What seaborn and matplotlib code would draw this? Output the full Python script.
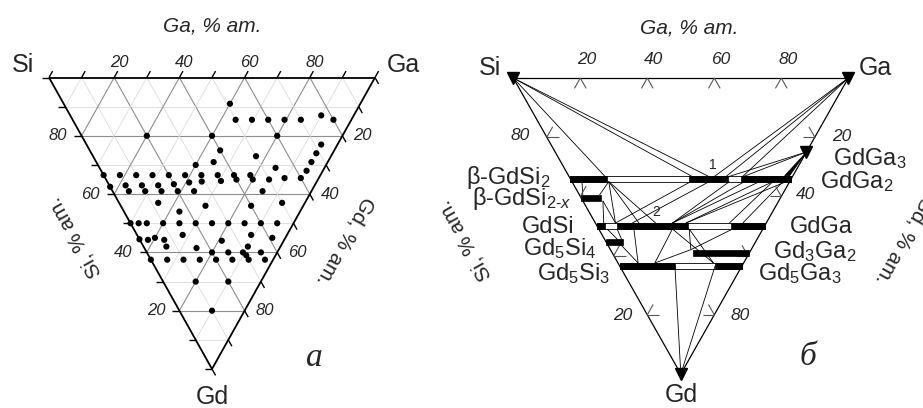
import numpy as np
import pandas as pd
import matplotlib
matplotlib.use('Agg')
import matplotlib.pyplot as plt
import seaborn as sns
from matplotlib.patches import Rectangle, Polygon

sns.set_theme(style='white')
plt.rcParams['font.family'] = ['Liberation Sans', 'DejaVu Sans']
plt.rcParams['mathtext.fontset'] = 'custom'
plt.rcParams['mathtext.rm'] = 'Liberation Sans'
plt.rcParams['mathtext.it'] = 'Liberation Sans:italic'

# ---- panel a: compositions of the alloys (at.% Ga, at.% Gd)
samp_ga = [51, 50, 55, 60, 65, 70, 77, 80, 20, 40, 60,
           40, 72, 69, 50, 66, 63, 36, 30, 54,
           0, 5, 10, 15, 20, 25, 30, 35, 40, 45, 50, 55, 60,
           0, 5, 10, 15, 20, 25, 29, 35, 40, 45,
           5, 10, 15, 20, 25, 46,
           12, 17, 26, 40, 50,
           0, 2.5, 5, 10, 15, 20, 25, 30, 35, 40, 45,
           14, 35, 41, 25, 0, 2.5, 5, 7.5, 7, 16, 32,
           20, 25, 29.5, 35, 30,
           0, 5, 10, 15, 20, 25, 30, 35,
           10, 20, 10]
samp_gd = [9, 14.5, 14.5, 14.5, 14.5, 14.5, 13, 14.5, 20, 20, 20,
           25, 23, 26, 27, 29, 32, 29, 30, 31,
           33.5, 33.5, 33.5, 33.5, 33.5, 33.5, 33.5, 33.5, 33.5, 33.5, 35, 34.5, 34.5,
           37.5, 37, 37, 37, 36.6, 36, 35.7, 35.5, 35, 35,
           39, 39, 39, 39, 39, 39,
           43, 46, 44, 44, 43,
           50, 50, 50, 50, 50, 50, 50, 50, 50, 50, 50,
           54, 54, 55, 56, 55.5, 55.7, 55, 55.7, 58, 58.5, 58,
           60, 60, 60, 60, 61,
           62.5, 62.5, 62.5, 62.5, 62.5, 62.5, 62.5, 62.5,
           70, 70, 80]

tick_vals = [20, 40, 60, 80]

# ---- panel b: homogeneity ranges (at.% Gd, Ga from, Ga to)
bar_gd = [34, 34, 34, 40.5, 50, 50, 50, 55.5, 59, 63.5, 63.5]
bar_ga0 = [0, 35.5, 51, 0, 0, 6, 40, 0, 24, 0, 28.5]
bar_ga1 = [11, 47, 66, 6, 2.5, 27, 50, 5, 41, 16.5, 36.5]
strip_gd = [34, 50, 63.5]
strip_ga1 = [66, 50, 36.5]

# tie lines (Ga, Gd) -> (Ga, Gd)
tie_a_ga = [0, 0, 0, 100, 100, 100, 75, 75,
            3, 11, 6, 6, 11, 11, 11, 35.5, 41, 47, 51.5, 56, 60, 64, 60, 63,
            2.5, 5.5, 4, 10.5, 11, 11, 22, 27, 40, 27, 16.5, 28.5]
tie_a_gd = [0, 0, 0, 0, 0, 0, 25, 25,
            35, 35, 41.5, 41.5, 35, 35, 35, 35, 35, 35, 35, 35, 35, 35, 35, 35,
            51, 51, 56.5, 51, 62.5, 62.5, 51, 51, 51, 51, 63.5, 63.5]
tie_b_ga = [11, 37, 42, 43, 46.5, 51.5, 47, 51.5,
            1, 6, 6, 2.5, 6, 13, 18, 6, 11, 23, 23, 23, 27, 27, 40, 44,
            4, 5, 6, 6, 22, 24, 28.5, 28.5, 24, 24, 0, 0]
tie_b_gd = [34, 33.5, 33.5, 33.5, 33.5, 33.5, 33.5, 33.5,
            39.5, 39.5, 49, 49, 49, 49, 49, 49, 49, 49, 49, 49, 49, 49, 49, 49,
            55, 55, 62.5, 62.5, 51, 58, 62.5, 62.5, 58, 58, 100, 100]

comp_lbl = ['β-GdSi$_2$', r'β-GdSi$_{2\text{-}x}$', 'GdSi', r'Gd$_5$Si$_4$', r'Gd$_5$Si$_3$']
comp_lbl_r = [r'GdGa$_3$', r'GdGa$_2$', 'GdGa', r'Gd$_3$Ga$_2$', r'Gd$_5$Ga$_3$']


def tern(ga, gd):
    ga = np.asarray(ga, float)
    gd = np.asarray(gd, float)
    return ga + gd / 2.0, gd


def seg(ax, ga1, gd1, ga2, gd2, **kw):
    x1, y1 = tern(ga1, gd1)
    x2, y2 = tern(ga2, gd2)
    ax.plot([x1, x2], [y1, y2], solid_capstyle='butt', clip_on=False, **kw)


fig = plt.figure(figsize=(9.23, 4.08), dpi=100)
axa = fig.add_axes([49 / 923, 1 - 369 / 408, 326 / 923, 291.5 / 408])
axb = fig.add_axes([513.3 / 923, 1 - 374 / 408, 335 / 923, 296 / 408])

# ---------------- panel a
for k in range(10, 100, 10):
    col = '#8e8e8e' if k % 20 == 0 else '#dcdcdc'
    lw = 0.8 if k % 20 == 0 else 0.6
    seg(axa, 0, k, 100 - k, k, color=col, lw=lw, zorder=1)
    seg(axa, k, 0, k, 100 - k, color=col, lw=lw, zorder=1)
    seg(axa, 100 - k, 0, 0, 100 - k, color=col, lw=lw, zorder=1)

for a, b in [((0, 0), (100, 0)), ((100, 0), (0, 100)), ((0, 100), (0, 0))]:
    seg(axa, a[0], a[1], b[0], b[1], color='black', lw=1.3, zorder=3)

d = 2.2
for k in range(0, 101, 10):
    seg(axa, k, 0, k + d, -d, color='black', lw=1.0, zorder=3)
    seg(axa, 0, k, -d, k, color='black', lw=1.0, zorder=3)
    seg(axa, 100 - k, k, 100 - k, k + d, color='black', lw=1.0, zorder=3)

df = pd.DataFrame({'Ga': samp_ga, 'Gd': samp_gd})
df['X'], df['Y'] = tern(df['Ga'], df['Gd'])
sns.scatterplot(data=df, x='X', y='Y', ax=axa, color='black', s=20,
                edgecolor='none', zorder=4, clip_on=False, legend=False)

tfs = 12
for v in tick_vals:
    x, y = tern(v, 0)
    axa.text(x + 1.5, -5.0, str(v), fontsize=tfs, style='italic', ha='center', va='center')
    x, y = tern(0, v)
    axa.text(x - 7.2, y, str(100 - v), fontsize=tfs, style='italic', ha='center', va='center')
    x, y = tern(100 - v, v)
    axa.text(x + 6.2, y, str(v), fontsize=tfs, style='italic', ha='center', va='center')

axa.text(50, -17.5, 'Ga, % am.', fontsize=15, style='italic', ha='center', va='center')
axa.text(-8.1, -4.2, 'Si', fontsize=18, ha='center', va='center')
axa.text(108.8, -4.2, 'Ga', fontsize=18, ha='center', va='center')
axa.text(50, 109.6, 'Gd', fontsize=18, ha='center', va='center')
axa.text(8, 54.7, 'Si, % am.', fontsize=15, rotation=119.3, ha='center', va='center',
         rotation_mode='anchor')
axa.text(90.8, 56.1, 'Gd, % am.', fontsize=15, rotation=240.7, ha='center', va='center',
         rotation_mode='anchor')
axa.text(81.3, 96.2, 'а', fontsize=24, style='italic', family='Liberation Serif',
         ha='center', va='center')

# ---------------- panel b
for a, b in [((0, 0), (100, 0)), ((100, 0), (0, 100)), ((0, 100), (0, 0))]:
    seg(axb, a[0], a[1], b[0], b[1], color='black', lw=0.9, zorder=3)

h = 1.0
for g, e in zip(strip_gd, strip_ga1):
    x0, _ = tern(0, g)
    x1, _ = tern(e, g)
    axb.add_patch(Rectangle((x0, g - h), x1 - x0, 2 * h, fill=False, ec='black', lw=0.6,
                            zorder=4, clip_on=False))
for g, a0, a1 in zip(bar_gd, bar_ga0, bar_ga1):
    x0, _ = tern(a0, g)
    x1, _ = tern(a1, g)
    axb.add_patch(Rectangle((x0, g - h), x1 - x0, 2 * h, fc='black', ec='black', lw=0.5,
                            zorder=5, clip_on=False))

# GdGa3 - GdGa2 wedge along the Ga-Gd side
wx, wy = tern([75, 66, 64.5], [25, 33, 33])
axb.add_patch(Polygon(np.column_stack([wx, wy]), closed=True, fc='black', ec='black',
                      lw=0.5, zorder=5, clip_on=False))

for a1, g1, a2, g2 in zip(tie_a_ga, tie_a_gd, tie_b_ga, tie_b_gd):
    seg(axb, a1, g1, a2, g2, color='black', lw=0.6, zorder=3)

vx, vy = tern([0, 100, 0, 75], [0, 0, 100, 25])
axb.plot(vx, vy, ls='none', marker='v', ms=8, color='black', zorder=6, clip_on=False)

dk = 3.5
for k in tick_vals:
    seg(axb, k, 0, k, dk, color='#555555', lw=0.8, zorder=3)
    seg(axb, k, 0, k - dk, dk, color='#555555', lw=0.8, zorder=3)
    seg(axb, 0, k, dk, k, color='#555555', lw=0.8, zorder=3)
    seg(axb, 0, k, dk, k - dk, color='#555555', lw=0.8, zorder=3)
    seg(axb, 100 - k, k, 100 - k - dk, k, color='#555555', lw=0.8, zorder=3)
    seg(axb, 100 - k, k, 100 - k, k - dk, color='#555555', lw=0.8, zorder=3)

for v in tick_vals:
    x, _ = tern(v, 0)
    axb.text(x + 2.0, -6.4, str(v), fontsize=12.5, style='italic', ha='center', va='center')
axb.text(2.0, 19.3, '80', fontsize=12.5, style='italic', ha='center', va='center')
axb.text(98.1, 19.6, '20', fontsize=12.5, style='italic', ha='center', va='center')
axb.text(87.1, 39.5, '40', fontsize=12.5, style='italic', ha='center', va='center')
axb.text(32.7, 80.1, '20', fontsize=12.5, style='italic', ha='center', va='center')
axb.text(67.7, 80.1, '80', fontsize=12.5, style='italic', ha='center', va='center')

axb.text(52.4, -16.9, 'Ga, % am.', fontsize=15, style='italic', ha='center', va='center')
axb.text(-7.1, -3.4, 'Si', fontsize=18, ha='center', va='center')
axb.text(108.0, -3.4, 'Ga', fontsize=18, ha='center', va='center')
axb.text(50.1, 107.1, 'Gd', fontsize=18, ha='center', va='center')
axb.text(-14.4, 54.7, 'Si, % am.', fontsize=15, rotation=119.3, ha='center', va='center',
         rotation_mode='anchor')
axb.text(116.5, 54.7, 'Gd, % am.', fontsize=15, rotation=240.7, ha='center', va='center',
         rotation_mode='anchor')
axb.text(87.9, 94.3, 'б', fontsize=24, style='italic', family='Liberation Serif',
         ha='center', va='center')
axb.text(59.6, 29.4, '1', fontsize=10, ha='center', va='center')
axb.text(42.8, 45.3, '2', fontsize=10, ha='center', va='center')

lx = [11.0, 17.4, 18.4, 25.0, 28.9]
ly = [35.9, 42.9, 52.5, 59.8, 68.2]
for t, x, y in zip(comp_lbl, lx, ly):
    axb.text(x, y, t, fontsize=17, ha='right', va='baseline')
rx = [95.4, 91.5, 82.6, 77.5, 73.0]
ry = [29.4, 37.3, 52.5, 60.9, 68.2]
for t, x, y in zip(comp_lbl_r, rx, ry):
    axb.text(x, y, t, fontsize=17, ha='left', va='baseline')

for ax in (axa, axb):
    ax.set_xlim(0, 100)
    ax.set_ylim(100, 0)
    ax.axis('off')

fig.savefig('out.png', dpi=100)
